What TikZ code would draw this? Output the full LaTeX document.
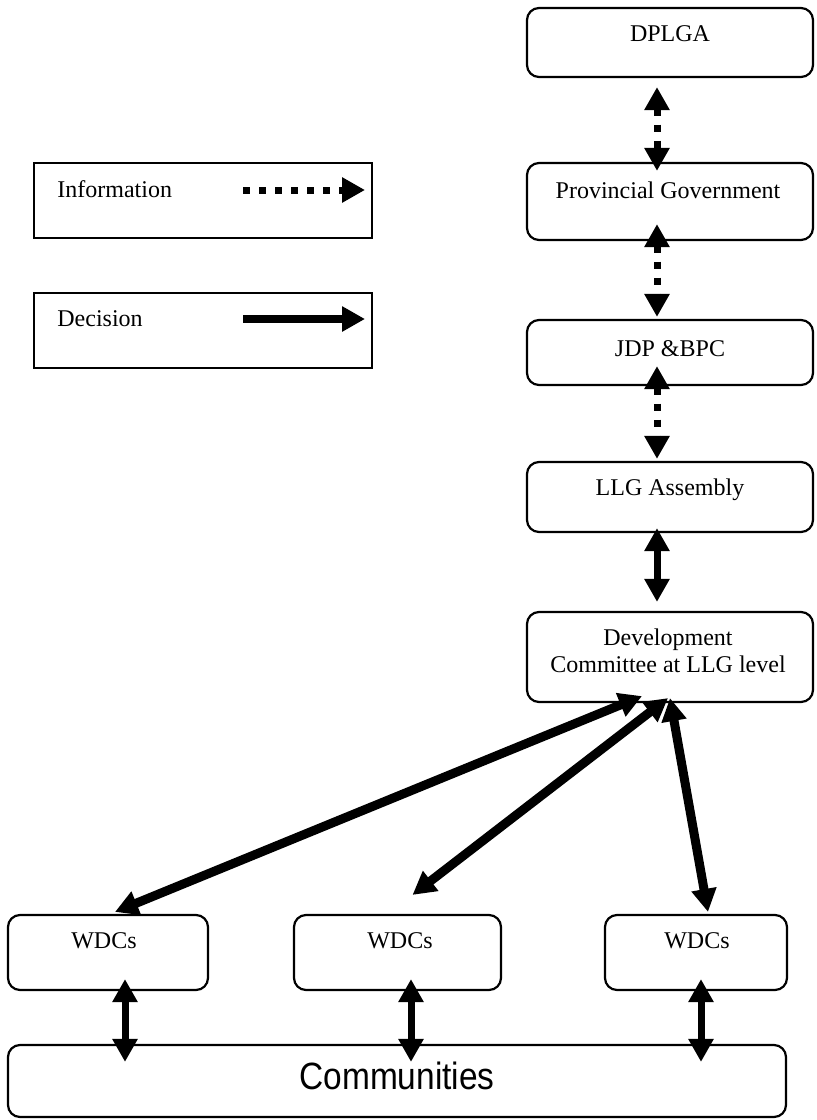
\documentclass[tikz,border=0pt]{standalone}
\usepackage{fontspec}
\setmainfont{Liberation Serif}
\newfontfamily\commfont[FakeStretch=0.88]{Liberation Sans}
\usetikzlibrary{arrows.meta}
\usetikzlibrary{calc}
\tikzset{
	box/.style 2 args={draw, line width=1.1pt, rounded corners=6pt, minimum width=#1, minimum height=#2, inner sep=0pt},
	keybox/.style={draw, line width=1pt, minimum width=169pt, minimum height=37.5pt, inner sep=0pt},
	txt/.style={font=\fontsize{12}{13.5}\selectfont, inner sep=0pt, align=center},
	bigtip/.tip={Triangle[length=11.5pt, width=12pt]},
	info/.style={line width=3.5pt, dash pattern=on 3.5pt off 4.5pt, bigtip-bigtip},
	dec/.style={line width=3.5pt, bigtip-bigtip},
	decthick/.style={line width=4.5pt, bigtip-bigtip}
}

\begin{document}
\begin{tikzpicture}[x=0.5pt, y=-0.5pt]

\useasboundingbox (0, 0) rectangle (817, 1120);

% right column
\node[box={143pt}{34.5pt}] (dplga) at (670, 42.5) {};
\node[txt] (t-dplga) at (670, 34) {DPLGA};

\node[box={143pt}{38.5pt}] (prov) at (670, 201.5) {};
\node[txt] (t-prov) at (668, 190) {Provincial Government};

\node[box={143pt}{32.5pt}] (jdp) at (670, 352.5) {};
\node[txt] (t-jdp) at (670, 349) {JDP \&BPC};

\node[box={143pt}{35pt}] (llg) at (670, 497) {};
\node[txt] (t-llg) at (670, 490) {LLG Assembly};

\node[box={143pt}{45pt}] (dev) at (670, 657) {};
\node[txt] (t-dev) at (668, 651) {Development\\Committee at LLG level};

% key
\node[keybox] (k-info) at (203, 200.5) {};
\node[txt, anchor=west] (t-info) at (57, 189) {Information};
\coordinate (i-start) at (243, 190);
\coordinate (i-end) at (365, 190);
\draw[info, {-bigtip}] (i-start) -- (i-end);

\node[keybox] (k-dec) at (203, 330.5) {};
\node[txt, anchor=west] (t-dec) at (57, 319) {Decision};
\coordinate (d-start) at (243, 319);
\coordinate (d-end) at (365, 319);
\draw[line width=4pt, -bigtip] (d-start) -- (d-end);

% wards
\node[box={100pt}{37.5pt}] (wdc1) at (108, 952.5) {};
\node[txt] (t-wdc1) at (104, 941) {WDCs};
\node[box={103.5pt}{37.5pt}] (wdc2) at (397.5, 952.5) {};
\node[txt] (t-wdc2) at (400, 941) {WDCs};
\node[box={91pt}{37.5pt}] (wdc3) at (696, 952.5) {};
\node[txt] (t-wdc3) at (697, 941) {WDCs};

\node[box={389pt}{36pt}] (comm) at (397, 1081) {};
\node[inner sep=0pt, font=\commfont\fontsize{19}{22}\selectfont] (t-comm) at (397, 1076) {Communities};

% links up the column
\draw[info] ($(dplga.south)+(-13, 9)$) -- ($(prov.north)+(-13, 9)$);
\draw[info] ($(prov.south)+(-13, -17)$) -- ($(jdp.north)+(-13, -2)$);
\draw[info] ($(jdp.south)+(-13, -20)$) -- ($(llg.north)+(-13, -2)$);
\draw[dec] ($(llg.south)+(-13, -5)$) -- ($(dev.north)+(-13, -9)$);

% committee to wards
\draw[decthick] ($(wdc1.north)+(7, -2)$) -- ($(dev.south)+(-28, -7)$);
\draw[decthick] ($(wdc2.north)+(15, -19)$) -- ($(dev.south)+(-2, -5)$);
\draw[decthick] ($(wdc3.north)+(12, -2)$) -- ($(dev.south)+(0, -5)$);

% wards to communities
\path (wdc1.south) ++(17, 0) coordinate (w1b);
\path (wdc2.south) ++(13.5, 0) coordinate (w2b);
\path (wdc3.south) ++(5, 0) coordinate (w3b);
\draw[dec] ($(w1b)+(0, -12)$) -- ($(w1b |- comm.north)+(0, 18)$);
\draw[dec] ($(w2b)+(0, -12)$) -- ($(w2b |- comm.north)+(0, 18)$);
\draw[dec] ($(w3b)+(0, -12)$) -- ($(w3b |- comm.north)+(0, 18)$);

\end{tikzpicture}
\end{document}
